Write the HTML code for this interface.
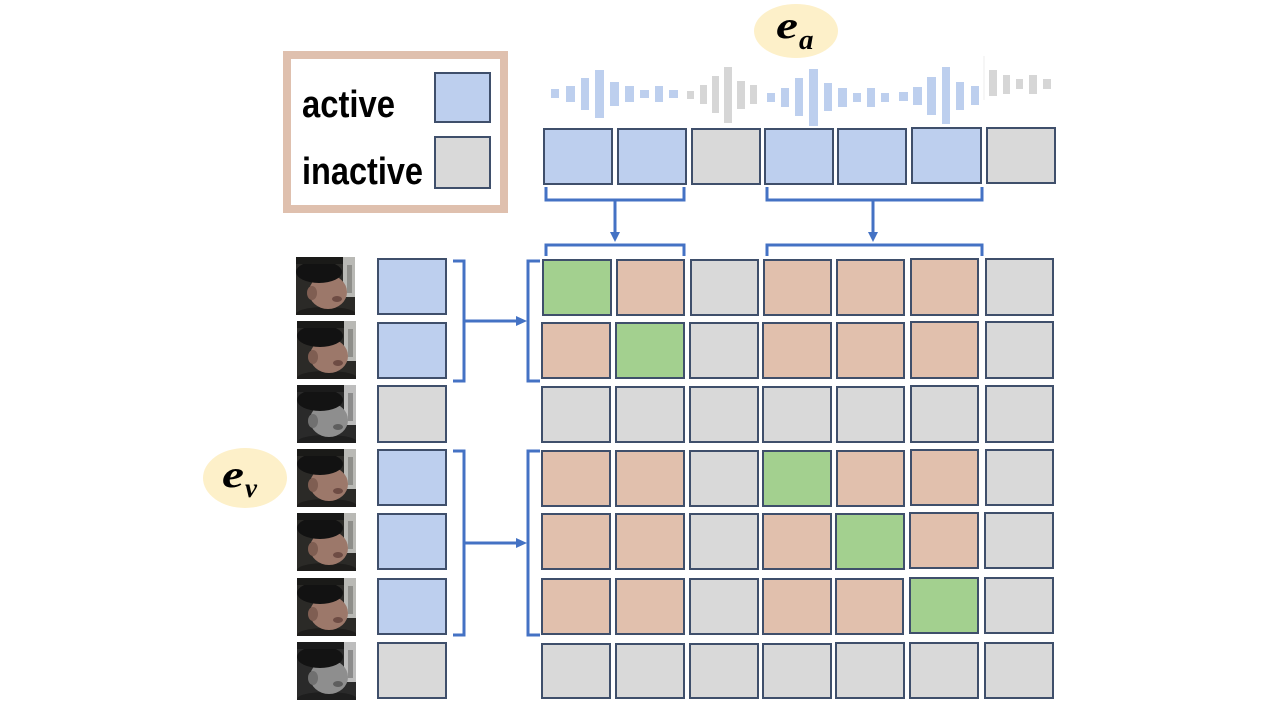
<!DOCTYPE html>
<html><head><meta charset="utf-8"><style>
html,body{margin:0;padding:0;background:#fff;}
svg{display:block;}
</style></head><body>
<svg width="1261" height="709" viewBox="0 0 1261 709" xmlns="http://www.w3.org/2000/svg">
<defs>
<symbol id="faceC" viewBox="0 0 59 58" overflow="hidden">
  <rect x="0" y="0" width="59" height="58" fill="#2b2a27"/>
  <rect x="47" y="0" width="12" height="40" fill="#b9b9b5"/>
  <rect x="51" y="8" width="5" height="28" fill="#8e8e8a"/>
  <ellipse cx="30" cy="57" rx="30" ry="7" fill="#1e1d1b"/>
  <ellipse cx="32" cy="35" rx="19" ry="17" fill="#9c786a"/>
  <ellipse cx="16" cy="36" rx="5" ry="7" fill="#7f5e52"/>
  <ellipse cx="41" cy="42" rx="5" ry="3" fill="#6e4c44"/>
  <ellipse cx="23" cy="15" rx="23" ry="11" fill="#121212"/>
  <rect x="0" y="0" width="47" height="7" fill="#1a1a18"/>
</symbol>
<symbol id="faceG" viewBox="0 0 59 58" overflow="hidden">
  <rect x="0" y="0" width="59" height="58" fill="#2a2a2a"/>
  <rect x="47" y="0" width="12" height="40" fill="#bdbdbd"/>
  <rect x="51" y="8" width="5" height="28" fill="#8c8c8c"/>
  <ellipse cx="30" cy="57" rx="30" ry="7" fill="#1e1e1e"/>
  <ellipse cx="32" cy="35" rx="19" ry="17" fill="#8e8e8e"/>
  <ellipse cx="16" cy="36" rx="5" ry="7" fill="#707070"/>
  <ellipse cx="41" cy="42" rx="5" ry="3" fill="#5e5e5e"/>
  <ellipse cx="23" cy="15" rx="23" ry="11" fill="#131313"/>
  <rect x="0" y="0" width="47" height="7" fill="#1b1b1b"/>
</symbol>
</defs>

<!-- legend -->
<rect x="287" y="55" width="217" height="154" fill="#fff" stroke="#dfc0ae" stroke-width="8"/>
<text x="302" y="117" font-family="Liberation Sans, sans-serif" font-weight="bold" font-size="38" textLength="93" lengthAdjust="spacingAndGlyphs" fill="#000">active</text>
<text x="302" y="184" font-family="Liberation Sans, sans-serif" font-weight="bold" font-size="38" textLength="121" lengthAdjust="spacingAndGlyphs" fill="#000">inactive</text>
<rect x="435" y="73" width="55" height="49" fill="#bdcfee" stroke="#3f4f6b" stroke-width="2"/>
<rect x="435" y="137" width="55" height="51" fill="#d9d9d9" stroke="#3f4f6b" stroke-width="2"/>

<!-- e_a -->
<ellipse cx="796" cy="31" rx="42" ry="27" fill="#fdf0c9"/>
<text x="776" y="38" font-family="Liberation Serif, serif" font-weight="bold" font-style="italic" font-size="38" textLength="22" lengthAdjust="spacingAndGlyphs" fill="#000">e</text>
<text x="799" y="49" font-family="Liberation Serif, serif" font-weight="bold" font-style="italic" font-size="29" fill="#000">a</text>

<!-- e_v -->
<ellipse cx="245" cy="478" rx="42" ry="30" fill="#fdf0c9"/>
<text x="222" y="487" font-family="Liberation Serif, serif" font-weight="bold" font-style="italic" font-size="38" textLength="22" lengthAdjust="spacingAndGlyphs" fill="#000">e</text>
<text x="245" y="497" font-family="Liberation Serif, serif" font-weight="bold" font-style="italic" font-size="27" fill="#000">v</text>

<!-- waveform -->
<g fill="#bdcfee">
<rect x="551" y="89" width="8" height="9"/>
<rect x="566" y="86" width="9" height="16"/>
<rect x="581" y="78" width="8" height="32"/>
<rect x="595" y="70" width="9" height="48"/>
<rect x="610" y="82" width="9" height="24"/>
<rect x="625" y="86" width="9" height="16"/>
<rect x="640" y="90" width="9" height="8"/>
<rect x="655" y="86" width="8" height="16"/>
<rect x="669" y="90" width="9" height="8"/>
<rect x="767" y="93" width="8" height="9"/>
<rect x="781" y="88" width="8" height="19"/>
<rect x="795" y="78" width="8" height="38"/>
<rect x="809" y="69" width="9" height="57"/>
<rect x="824" y="83" width="8" height="28"/>
<rect x="838" y="88" width="9" height="19"/>
<rect x="853" y="93" width="8" height="9"/>
<rect x="867" y="88" width="8" height="19"/>
<rect x="881" y="93" width="8" height="9"/>
<rect x="899" y="92" width="9" height="9"/>
<rect x="913" y="87" width="9" height="18"/>
<rect x="927" y="77" width="9" height="38"/>
<rect x="942" y="67" width="8" height="57"/>
<rect x="956" y="82" width="8" height="28"/>
<rect x="971" y="86" width="8" height="19"/>
</g>
<g fill="#d6d6d6">
<rect x="687" y="91" width="7" height="8"/>
<rect x="700" y="85" width="7" height="19"/>
<rect x="712" y="76" width="7" height="37"/>
<rect x="724" y="67" width="8" height="56"/>
<rect x="737" y="81" width="8" height="28"/>
<rect x="750" y="85" width="7" height="19"/>
<rect x="989" y="70" width="8" height="26"/>
<rect x="1003" y="75" width="7" height="19"/>
<rect x="1016" y="79" width="7" height="10"/>
<rect x="1029" y="75" width="8" height="19"/>
<rect x="1043" y="79" width="8" height="10"/>
</g>
<line x1="984" y1="56" x2="984" y2="100" stroke="#ececec" stroke-width="1"/>

<!-- audio boxes -->
<g stroke="#3f4f6b" stroke-width="2">
<rect x="544" y="129" width="68" height="55" fill="#bdcfee"/>
<rect x="618" y="129" width="68" height="55" fill="#bdcfee"/>
<rect x="692" y="129" width="68" height="55" fill="#d9d9d9"/>
<rect x="765" y="129" width="68" height="55" fill="#bdcfee"/>
<rect x="838" y="129" width="68" height="55" fill="#bdcfee"/>
<rect x="912" y="128" width="69" height="55" fill="#bdcfee"/>
<rect x="987" y="128" width="68" height="55" fill="#d9d9d9"/>
</g>

<!-- brackets & arrows -->
<g stroke="#4472c4" stroke-width="3" fill="none">
<polyline points="546,187 546,200 684,200 684,187"/>
<line x1="615" y1="200" x2="615" y2="234"/>
<polyline points="546,256 546,245 684,245 684,256"/>
<polyline points="767,187 767,200 982,200 982,187"/>
<line x1="873" y1="200" x2="873" y2="234"/>
<polyline points="767,256 767,245 982,245 982,256"/>
<polyline points="453,261 464,261 464,381 453,381"/>
<line x1="464" y1="321" x2="518" y2="321"/>
<polyline points="540,261 528,261 528,381 540,381"/>
<polyline points="453,451 464,451 464,635 453,635"/>
<line x1="464" y1="543" x2="518" y2="543"/>
<polyline points="540,451 528,451 528,635 540,635"/>
</g>
<g fill="#4472c4">
<polygon points="610,232 620,232 615,242"/>
<polygon points="868,232 878,232 873,242"/>
<polygon points="516,316 516,326 527,321"/>
<polygon points="516,538 516,548 527,543"/>
</g>

<!-- faces -->
<use href="#faceC" x="296" y="257" width="59" height="58"/>
<use href="#faceC" x="297" y="321" width="59" height="58"/>
<use href="#faceG" x="297" y="385" width="59" height="58"/>
<use href="#faceC" x="297" y="449" width="59" height="58"/>
<use href="#faceC" x="297" y="513" width="59" height="58"/>
<use href="#faceC" x="297" y="578" width="59" height="58"/>
<use href="#faceG" x="297" y="642" width="59" height="58"/>

<!-- visual boxes -->
<g stroke="#3f4f6b" stroke-width="2">
<rect x="378" y="259" width="68" height="55" fill="#bdcfee"/>
<rect x="378" y="323" width="68" height="55" fill="#bdcfee"/>
<rect x="378" y="386" width="68" height="56" fill="#d9d9d9"/>
<rect x="378" y="450" width="68" height="55" fill="#bdcfee"/>
<rect x="378" y="514" width="68" height="55" fill="#bdcfee"/>
<rect x="378" y="579" width="68" height="55" fill="#bdcfee"/>
<rect x="378" y="643" width="68" height="55" fill="#d9d9d9"/>
</g>

<!-- grid -->
<g stroke="#3f4f6b" stroke-width="2">
<rect x="543" y="260" width="68" height="55" fill="#a3d08f"/>
<rect x="617" y="260" width="67" height="55" fill="#e1c0ad"/>
<rect x="691" y="260" width="67" height="55" fill="#d9d9d9"/>
<rect x="764" y="260" width="67" height="55" fill="#e1c0ad"/>
<rect x="837" y="260" width="67" height="55" fill="#e1c0ad"/>
<rect x="911" y="259" width="67" height="56" fill="#e1c0ad"/>
<rect x="986" y="259" width="67" height="56" fill="#d9d9d9"/>

<rect x="542" y="323" width="68" height="55" fill="#e1c0ad"/>
<rect x="616" y="323" width="68" height="55" fill="#a3d08f"/>
<rect x="690" y="323" width="68" height="55" fill="#d9d9d9"/>
<rect x="763" y="323" width="68" height="55" fill="#e1c0ad"/>
<rect x="837" y="323" width="67" height="55" fill="#e1c0ad"/>
<rect x="911" y="322" width="67" height="56" fill="#e1c0ad"/>
<rect x="986" y="322" width="67" height="56" fill="#d9d9d9"/>

<rect x="542" y="387" width="68" height="55" fill="#d9d9d9"/>
<rect x="616" y="387" width="68" height="55" fill="#d9d9d9"/>
<rect x="690" y="387" width="68" height="55" fill="#d9d9d9"/>
<rect x="763" y="387" width="68" height="55" fill="#d9d9d9"/>
<rect x="837" y="387" width="67" height="55" fill="#d9d9d9"/>
<rect x="911" y="386" width="67" height="56" fill="#d9d9d9"/>
<rect x="986" y="386" width="67" height="56" fill="#d9d9d9"/>

<rect x="542" y="451" width="68" height="55" fill="#e1c0ad"/>
<rect x="616" y="451" width="68" height="55" fill="#e1c0ad"/>
<rect x="690" y="451" width="68" height="55" fill="#d9d9d9"/>
<rect x="763" y="451" width="68" height="55" fill="#a3d08f"/>
<rect x="837" y="451" width="67" height="55" fill="#e1c0ad"/>
<rect x="911" y="450" width="67" height="55" fill="#e1c0ad"/>
<rect x="986" y="450" width="67" height="55" fill="#d9d9d9"/>

<rect x="542" y="514" width="68" height="55" fill="#e1c0ad"/>
<rect x="616" y="514" width="68" height="55" fill="#e1c0ad"/>
<rect x="690" y="514" width="68" height="55" fill="#d9d9d9"/>
<rect x="763" y="514" width="68" height="55" fill="#e1c0ad"/>
<rect x="836" y="514" width="68" height="55" fill="#a3d08f"/>
<rect x="910" y="513" width="68" height="55" fill="#e1c0ad"/>
<rect x="985" y="513" width="68" height="55" fill="#d9d9d9"/>

<rect x="542" y="579" width="68" height="55" fill="#e1c0ad"/>
<rect x="616" y="579" width="68" height="55" fill="#e1c0ad"/>
<rect x="690" y="579" width="68" height="55" fill="#d9d9d9"/>
<rect x="763" y="579" width="68" height="55" fill="#e1c0ad"/>
<rect x="836" y="579" width="67" height="55" fill="#e1c0ad"/>
<rect x="910" y="578" width="68" height="55" fill="#a3d08f"/>
<rect x="985" y="578" width="68" height="55" fill="#d9d9d9"/>

<rect x="542" y="644" width="68" height="54" fill="#d9d9d9"/>
<rect x="616" y="644" width="68" height="54" fill="#d9d9d9"/>
<rect x="690" y="644" width="68" height="54" fill="#d9d9d9"/>
<rect x="763" y="644" width="68" height="54" fill="#d9d9d9"/>
<rect x="836" y="643" width="68" height="55" fill="#d9d9d9"/>
<rect x="910" y="643" width="68" height="55" fill="#d9d9d9"/>
<rect x="985" y="643" width="68" height="55" fill="#d9d9d9"/>
</g>
</svg>
</body></html>
